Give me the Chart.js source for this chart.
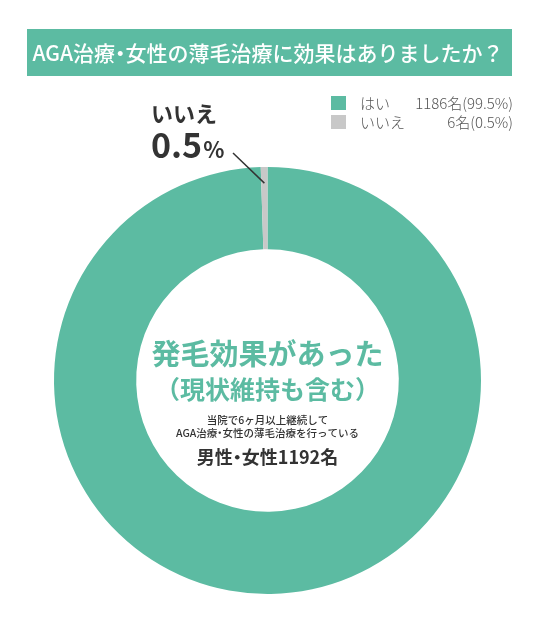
<!DOCTYPE html>
<html lang="ja">
<head>
<meta charset="utf-8">
<script src="https://cdn.jsdelivr.net/npm/chart.js@4/dist/chart.umd.min.js"></script>
<style>
  html, body { margin: 0; padding: 0; background: #fff; }
  #wrap { width: 537px; height: 619px; position: relative; }
</style>
</head>
<body>
<div id="wrap"><canvas id="chart" width="537" height="619"></canvas></div>
<script>
// データ
const labels = ['はい', 'いいえ'];
const counts = [1186, 6];
const percents = ['99.5', '0.5'];
const colors = ['#5cbba2', '#c8c8c8'];

const titleText = 'AGA治療・女性の薄毛治療に効果はありましたか？';
const centerMain = '発毛効果があった';
const centerSub = '（現状維持も含む）';
const centerNote = ['当院で6ヶ月以上継続して', 'AGA治療・女性の薄毛治療を行っている'];
const centerTotal = '男性・女性' + counts.reduce((a, b) => a + b, 0) + '名';

const FONT = '"Noto Sans CJK JP", "Noto Sans", sans-serif';

// 文字ごとに描画（「・」を詰める）
function drawTight(ctx, text, cx, y) {
    const parts = text.split('・');
    const dotW = ctx.measureText('・').width * 0.5;
    const widths = parts.map(p => ctx.measureText(p).width);
    const total = widths.reduce((a, b) => a + b, 0) + dotW * (parts.length - 1);
    let x = cx - total / 2;
    const align = ctx.textAlign;
    ctx.textAlign = 'left';
    parts.forEach((p, i) => {
        ctx.fillText(p, x, y);
        x += widths[i];
        if (i < parts.length - 1) {
            ctx.textAlign = 'center';
            ctx.fillText('・', x + dotW / 2, y);
            ctx.textAlign = 'left';
            x += dotW;
        }
    });
    ctx.textAlign = align;
}

// タイトル・凡例・中央テキスト描画プラグイン
const decorPlugin = {
    id: 'decor',
    afterDraw(chart) {
        const ctx = chart.ctx;
        ctx.save();

        // タイトル帯
        ctx.fillStyle = colors[0];
        ctx.fillRect(27, 29, 485, 47);
        ctx.fillStyle = '#fff';
        ctx.font = '500 21px ' + FONT;
        ctx.textAlign = 'center';
        ctx.textBaseline = 'middle';
        drawTight(ctx, titleText, 268, 53);

        // 凡例
        ctx.font = '300 15px ' + FONT;
        labels.forEach((lab, i) => {
            const y = 103 + i * 19;
            ctx.fillStyle = colors[i];
            ctx.fillRect(331, y - 7, 15, 14);
            ctx.fillStyle = '#555';
            ctx.textAlign = 'left';
            ctx.fillText(lab, 360, y);
            ctx.textAlign = 'right';
            ctx.fillText(counts[i] + '名(' + percents[i] + '%)', 513, y);
        });

        // いいえ ラベル
        ctx.fillStyle = '#333';
        ctx.textAlign = 'left';
        ctx.textBaseline = 'alphabetic';
        ctx.font = 'bold 22px ' + FONT;
        ctx.fillText(labels[1], 151, 122);
        ctx.font = 'bold 34px ' + FONT;
        ctx.fillText(percents[1], 151, 158);
        const w = ctx.measureText(percents[1]).width;
        ctx.font = 'bold 22px ' + FONT;
        ctx.fillText('%', 151 + w + 1, 158);

        // 引き出し線
        const meta = chart.getDatasetMeta(0).data[1];
        const mid = (meta.startAngle + meta.endAngle) / 2;
        const r = (meta.innerRadius + meta.outerRadius) / 2 + 25;
        ctx.strokeStyle = '#333';
        ctx.lineWidth = 1.5;
        ctx.beginPath();
        ctx.moveTo(233, 153);
        ctx.lineTo(meta.x + Math.cos(mid) * r, meta.y + Math.sin(mid) * r);
        ctx.stroke();

        // 中央テキスト
        const cx = meta.x;
        ctx.textAlign = 'center';
        ctx.textBaseline = 'middle';
        ctx.fillStyle = colors[0];
        ctx.font = 'bold 29px ' + FONT;
        ctx.fillText(centerMain, cx, 354);
        ctx.font = 'bold 25px ' + FONT;
        ctx.fillText(centerSub, cx, 389);
        ctx.fillStyle = '#333';
        ctx.font = '500 10.5px ' + FONT;
        ctx.fillText(centerNote[0], cx, 420);
        drawTight(ctx, centerNote[1], cx, 433);
        ctx.font = 'bold 18px ' + FONT;
        drawTight(ctx, centerTotal, cx, 457);

        ctx.restore();
    }
};

new Chart(document.getElementById('chart'), {
    type: 'doughnut',
    data: {
        labels: labels,
        datasets: [{
            data: counts,
            backgroundColor: colors,
            borderWidth: 0
        }]
    },
    options: {
        responsive: false,
        animation: false,
        cutout: '61.5%',
        layout: {
            padding: { top: 167, bottom: 25, left: 54, right: 56 }
        },
        plugins: {
            legend: { display: false },
            tooltip: { enabled: false }
        }
    },
    plugins: [decorPlugin]
});
</script>
</body>
</html>
